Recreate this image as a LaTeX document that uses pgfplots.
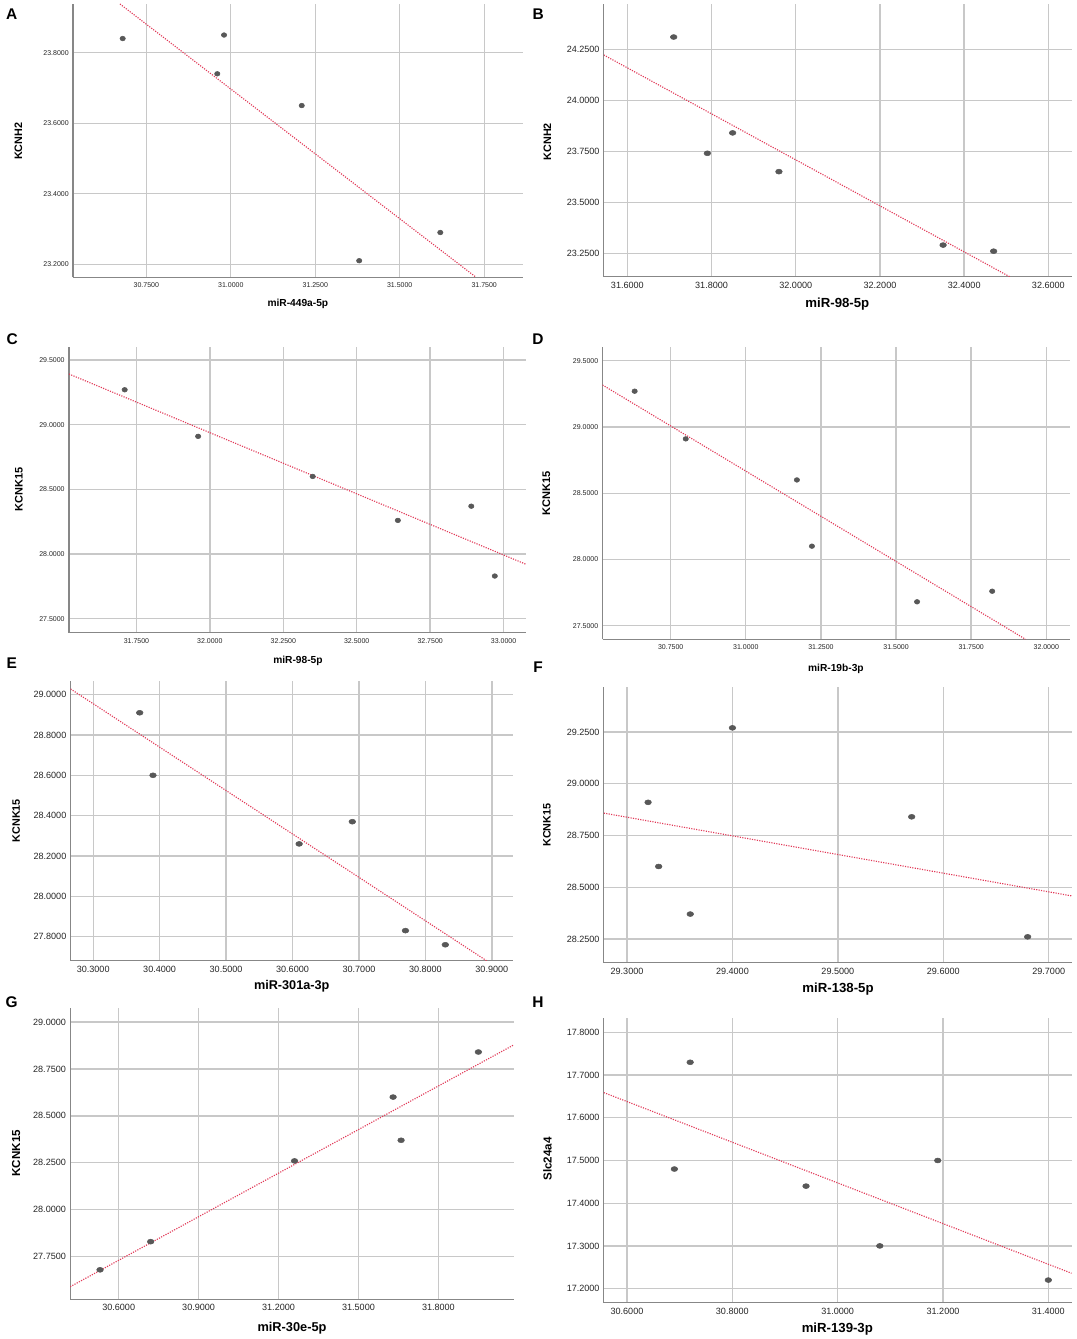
\documentclass[border=0pt]{standalone}
\usepackage{pgfplots}
\pgfplotsset{compat=1.18}
\usepackage{fontspec}
\setmainfont{Liberation Sans}
\definecolor{gridc}{RGB}{200,200,200}
\definecolor{spine}{RGB}{135,135,135}
\definecolor{dotc}{RGB}{88,88,88}
\definecolor{fitc}{RGB}{226,58,88}
\newcommand{\fs}[1]{\fontsize{#1}{#1}\selectfont}
\pgfplotsset{
  panel/.style={
    scale only axis, anchor=south west,
    axis x line*=bottom, axis y line*=left,
    axis line style={-, draw=spine, line width=0.95pt},
    every outer x axis line/.append style={-},
    every outer y axis line/.append style={-},
    grid=major, major grid style={draw=gridc, line width=1pt},
    major tick length=0pt, tick style={draw=none},
    /pgf/number format/fixed, /pgf/number format/fixed zerofill,
    /pgf/number format/precision=4, /pgf/number format/1000 sep={},
    /pgf/number format/assume math mode=true,
    xticklabel style={anchor=center, text=black!85},
    yticklabel style={anchor=east, inner sep=0pt, xshift=-3pt, text=black!85},
    xlabel style={anchor=center, font=\bfseries},
    ylabel style={anchor=center, font=\bfseries},
    clip=true,
  },
  small/.style={ticklabel style={font=\fs{5.25pt}}, xticklabel style={yshift=-6.1pt}},
  big/.style={ticklabel style={font=\fs{6.8pt}}, xticklabel style={yshift=-6.3pt}},
  pts/.style={only marks, mark=*, mark size=1.75pt, mark options={draw=dotc, fill=dotc, xscale=1.15}},
  ptb/.style={only marks, mark=*, mark size=1.85pt, mark options={draw=dotc, fill=dotc, xscale=1.35}},
  fit/.style={no marks, draw=fitc, line width=0.85pt, densely dotted},
}
\begin{document}
\begin{tikzpicture}
\path[use as bounding box, fill=white] (0,0) rectangle (807pt,1004.25pt);
% ---------------- A
\begin{axis}[panel, small, at={(54.75pt,796.275pt)}, width=337.8pt, height=204.975pt,
  xmin=30.533, xmax=31.866, ymin=23.163, ymax=23.938,
  xtick={30.75,31,31.25,31.5,31.75}, ytick={23.2,23.4,23.6,23.8},
  xlabel={miR-449a-5p}, ylabel={KCNH2},
  xlabel style={at={(axis description cs:0.4993,-0.0977)}, font=\bfseries\fs{7.65pt}},
  ylabel style={at={(axis description cs:-0.1214,0.4976)}, font=\bfseries\fs{8.1pt}}]
\addplot[fit] coordinates {(30.672,23.938) (31.726,23.163)};
\addplot[pts] coordinates {(30.68,23.84) (30.98,23.85) (30.96,23.74) (31.21,23.65) (31.38,23.21) (31.62,23.29)};
\end{axis}
% ---------------- B
\begin{axis}[panel, big, at={(452.85pt,796.725pt)}, width=350.775pt, height=204.525pt,
  xmin=31.544, xmax=32.655, ymin=23.135, ymax=24.472,
  xtick={31.6,31.8,32,32.2,32.4,32.6}, ytick={23.25,23.5,23.75,24,24.25},
  xlabel={miR-98-5p}, ylabel={KCNH2},
  xlabel style={at={(axis description cs:0.4993,-0.1001)}, font=\bfseries\fs{9.9pt}},
  ylabel style={at={(axis description cs:-0.1206,0.495)}, font=\bfseries\fs{8.1pt}}]
\addplot[fit] coordinates {(31.544,24.222) (32.508,23.135)};
\addplot[ptb] coordinates {(31.71,24.31) (31.79,23.74) (31.85,23.84) (31.96,23.65) (32.35,23.29) (32.47,23.26)};
\end{axis}
% ---------------- C
\begin{axis}[panel, small, at={(51.675pt,529.725pt)}, width=342.975pt, height=214.5pt,
  xmin=31.520, xmax=33.077, ymin=27.392, ymax=29.603,
  xtick={31.75,32,32.25,32.5,32.75,33}, ytick={27.5,28,28.5,29,29.5},
  xlabel={miR-98-5p}, ylabel={KCNK15},
  xlabel style={at={(axis description cs:0.5008,-0.0979)}, font=\bfseries\fs{7.65pt}},
  ylabel style={at={(axis description cs:-0.1093,0.5014)}, font=\bfseries\fs{8.2pt}}]
\addplot[fit] coordinates {(31.520,29.392) (33.077,27.920)};
\addplot[pts] coordinates {(31.71,29.27) (31.96,28.91) (32.35,28.60) (32.64,28.26) (32.89,28.37) (32.97,27.83)};
\end{axis}
% ---------------- D
\begin{axis}[panel, small, at={(451.875pt,524.775pt)}, width=350.4pt, height=219.45pt,
  xmin=30.523, xmax=32.078, ymin=27.397, ymax=29.606,
  xtick={30.75,31,31.25,31.5,31.75,32}, ytick={27.5,28,28.5,29,29.5},
  xlabel={miR-19b-3p}, ylabel={KCNK15},
  xlabel style={at={(axis description cs:0.4996,-0.1005)}, font=\bfseries\fs{7.65pt}},
  ylabel style={at={(axis description cs:-0.1203,0.499)}, font=\bfseries\fs{8.3pt}}]
\addplot[fit] coordinates {(30.523,29.317) (31.931,27.397)};
\addplot[pts] coordinates {(30.63,29.27) (30.80,28.91) (31.17,28.60) (31.22,28.10) (31.57,27.68) (31.82,27.76)};
\end{axis}
% ---------------- E
\begin{axis}[panel, big, at={(52.95pt,283.725pt)}, width=331.875pt, height=210pt,
  xmin=30.266, xmax=30.932, ymin=27.681, ymax=29.069,
  xtick={30.3,30.4,30.5,30.6,30.7,30.8,30.9}, ytick={27.8,28,28.2,28.4,28.6,28.8,29},
  xlabel={miR-301a-3p}, ylabel={KCNK15},
  xlabel style={at={(axis description cs:0.4997,-0.0929)}, font=\bfseries\fs{9.5pt}},
  ylabel style={at={(axis description cs:-0.1229,0.5)}, font=\bfseries\fs{8.1pt}}]
\addplot[fit] coordinates {(30.266,29.028) (30.892,27.681)};
\addplot[ptb] coordinates {(30.37,28.91) (30.39,28.60) (30.61,28.26) (30.69,28.37) (30.77,27.83) (30.83,27.76)};
\end{axis}
% ---------------- F
\begin{axis}[panel, big, at={(452.85pt,282.225pt)}, width=350.775pt, height=206.55pt,
  xmin=29.278, xmax=29.7216, ymin=28.135, ymax=29.466,
  xtick={29.3,29.4,29.5,29.6,29.7}, ytick={28.25,28.5,28.75,29,29.25},
  xlabel={miR-138-5p}, ylabel={KCNK15},
  xlabel style={at={(axis description cs:0.5008,-0.0966)}, font=\bfseries\fs{9.9pt}},
  ylabel style={at={(axis description cs:-0.1214,0.5)}, font=\bfseries\fs{8.1pt}}]
\addplot[fit] coordinates {(29.278,28.858) (29.7216,28.458)};
\addplot[ptb] coordinates {(29.32,28.91) (29.33,28.60) (29.36,28.37) (29.40,29.27) (29.57,28.84) (29.68,28.26)};
\end{axis}
% ---------------- G
\begin{axis}[panel, big, at={(52.65pt,29.775pt)}, width=332.7pt, height=218.7pt,
  xmin=30.418, xmax=32.083, ymin=27.523, ymax=29.076,
  xtick={30.6,30.9,31.2,31.5,31.8}, ytick={27.75,28,28.25,28.5,28.75,29},
  xlabel={miR-30e-5p}, ylabel={KCNK15},
  xlabel style={at={(axis description cs:0.5,-0.0974)}, font=\bfseries\fs{9.6pt}},
  ylabel style={at={(axis description cs:-0.1217,0.5007)}, font=\bfseries\fs{8.7pt}}]
\addplot[fit] coordinates {(30.418,27.590) (32.083,28.878)};
\addplot[ptb] coordinates {(30.53,27.68) (30.72,27.83) (31.26,28.26) (31.63,28.60) (31.66,28.37) (31.95,28.84)};
\end{axis}
% ---------------- H
\begin{axis}[panel, big, at={(452.85pt,27.225pt)}, width=350.775pt, height=213.3pt,
  xmin=30.556, xmax=31.444, ymin=17.167, ymax=17.833,
  xtick={30.6,30.8,31,31.2,31.4}, ytick={17.2,17.3,17.4,17.5,17.6,17.7,17.8},
  xlabel={miR-139-3p}, ylabel={Slc24a4},
  xlabel style={at={(axis description cs:0.4993,-0.0925)}, font=\bfseries\fs{9.9pt}},
  ylabel style={at={(axis description cs:-0.1206,0.505)}, font=\bfseries\fs{8.7pt}}]
\addplot[fit] coordinates {(30.556,17.659) (31.444,17.236)};
\addplot[ptb] coordinates {(30.69,17.48) (30.72,17.73) (30.94,17.44) (31.08,17.30) (31.19,17.50) (31.40,17.22)};
\end{axis}
% ---------------- panel letters
\begin{scope}[every node/.style={font=\bfseries\fs{11.6pt}, inner sep=0pt, anchor=center}]
\node at (8.775pt,993.75pt) {A};
\node at (403.725pt,993.75pt) {B};
\node at (9.075pt,749.85pt) {C};
\node at (403.5pt,749.85pt) {D};
\node at (8.775pt,507pt) {E};
\node at (403.5pt,504pt) {F};
\node at (8.775pt,252.375pt) {G};
\node at (403.5pt,252.975pt) {H};
\end{scope}
\end{tikzpicture}
\end{document}
